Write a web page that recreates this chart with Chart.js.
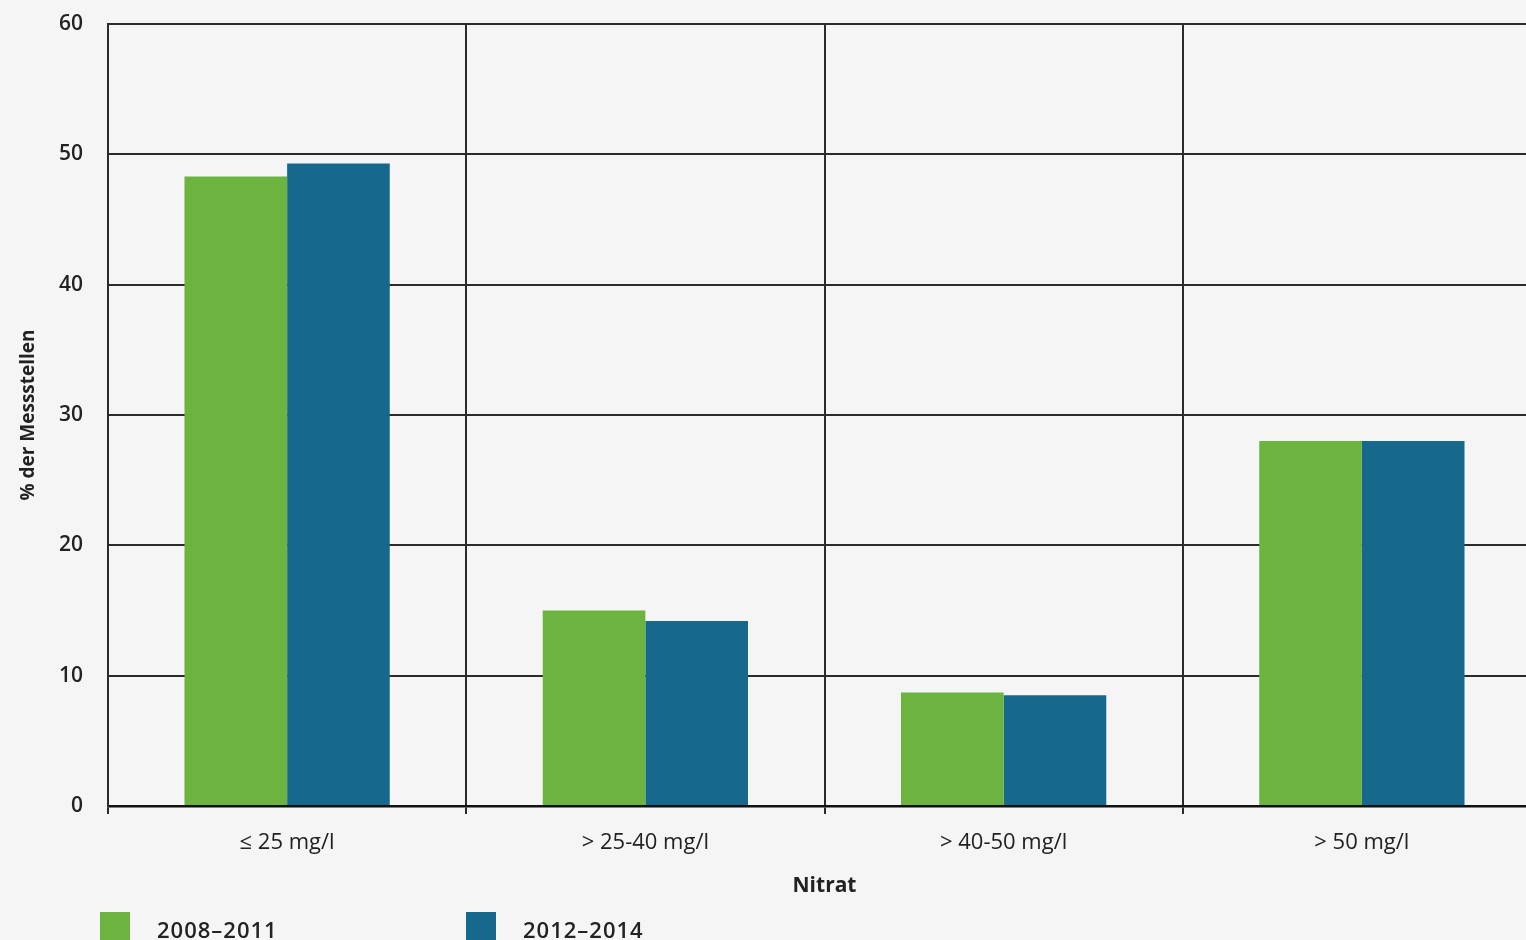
<!DOCTYPE html>
<html>
<head>
<meta charset="utf-8">
<script src="https://cdn.jsdelivr.net/npm/chart.js@4"></script>
<style>
  html, body { margin: 0; padding: 0; background: #f5f5f5; overflow: hidden; width: 1526px; height: 940px; }
  #wrap { position: relative; width: 1545px; height: 960px; }
  .legend { position: absolute; top: 912px; font-family: "Open Sans", sans-serif; font-size: 22px; font-weight: 600; color: #222; letter-spacing: 1px; }
  .legend span.box { position: absolute; left: 0; top: 0; width: 30px; height: 30px; }
  .legend span.txt { position: absolute; left: 57px; top: 2px; white-space: nowrap; }
</style>
</head>
<body>
<div id="wrap">
  <canvas id="chart" width="1545" height="960"></canvas>
  <div class="legend" id="leg0" style="left:100px"><span class="box"></span><span class="txt"></span></div>
  <div class="legend" id="leg1" style="left:466px"><span class="box"></span><span class="txt"></span></div>
</div>
<script>
document.addEventListener('DOMContentLoaded', function() {
    const categories = ['≤ 25 mg/l', '> 25-40 mg/l', '> 40-50 mg/l', '> 50 mg/l'];
    const seriesNames = ['2008–2011', '2012–2014'];
    const values2008 = [48.3, 15.0, 8.7, 28.0];
    const values2012 = [49.3, 14.2, 8.5, 28.0];
    const colors = ['#6db33f', '#17688d'];

    // html legend, placed like the original
    [0, 1].forEach(i => {
        const el = document.getElementById('leg' + i);
        el.querySelector('.box').style.background = colors[i];
        el.querySelector('.txt').textContent = seriesNames[i];
    });

    const gridColor = '#2b2b2b';
    const ctx = document.getElementById('chart').getContext('2d');

    new Chart(ctx, {
        type: 'bar',
        data: {
            labels: categories,
            datasets: [
                { label: seriesNames[0], data: values2008, backgroundColor: colors[0], borderWidth: 0 },
                { label: seriesNames[1], data: values2012, backgroundColor: colors[1], borderWidth: 0 }
            ]
        },
        options: {
            responsive: false,
            animation: false,
            datasets: { bar: { categoryPercentage: 0.573, barPercentage: 1.0 } },
            layout: { padding: { left: 0, top: 24, right: 4, bottom: 58 } },
            plugins: {
                legend: { display: false },
                tooltip: { enabled: false }
            },
            scales: {
                x: {
                    afterFit: scale => { scale.height = 96; },
                    grid: { color: gridColor, lineWidth: 2, tickLength: 8, offset: true },
                    border: { color: '#111', width: 2.5 },
                    ticks: { color: '#222', padding: 16, font: { family: 'Open Sans', size: 22 } },
                    title: { display: true, text: 'Nitrat', color: '#222', padding: { top: 0, bottom: 3 },
                             font: { family: 'Open Sans', size: 21, weight: 'bold' } }
                },
                y: {
                    min: 0, max: 60,
                    afterFit: scale => { scale.width = 108; scale.paddingTop = 0; scale.paddingBottom = 0; },
                    grid: { color: gridColor, lineWidth: 2, drawTicks: false },
                    border: { color: gridColor, width: 2 },
                    ticks: { stepSize: 10, color: '#222', padding: 25, font: { family: 'Open Sans', size: 21, weight: '600' } },
                    title: { display: true, text: '% der Messstellen', color: '#222', padding: { top: 17, bottom: 0 },
                             font: { family: 'Open Sans', size: 19, weight: 'bold' } }
                }
            }
        }
    });
});
</script>
</body>
</html>
